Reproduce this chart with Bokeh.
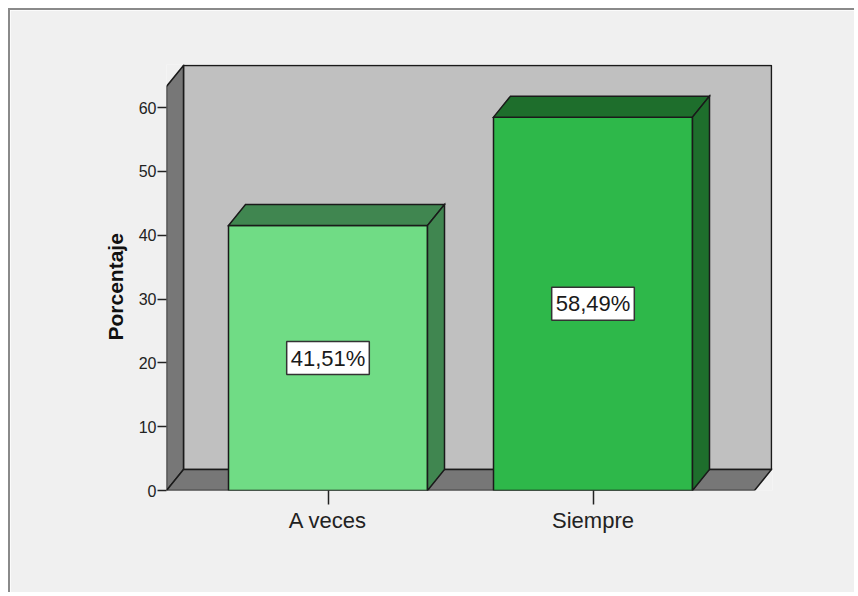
from bokeh.plotting import figure
from bokeh.models import Range1d, FixedTicker, Label, Title, ColumnDataSource
from bokeh.embed import file_html
from bokeh.resources import INLINE

# ---- data ----
categories = ["A veces", "Siempre"]
percentages = [41.51, 58.49]
front_colors = ["#70dc85", "#2eb84a"]
shade_colors = ["#408650", "#1e6e2c"]
y_ticks = [0, 10, 20, 30, 40, 50, 60]
y_axis_title = "Porcentaje"

# ---- geometry / style constants ----
PX_X = 265.0          # pixels per category step
PX_Y = 383.0 / 60.0   # pixels per percent
DX = 17.0 / PX_X      # 3D depth in x (data units)
DY = 21.0 / PX_Y      # 3D depth in y (data units)
HALF_W = 99.5 / PX_X
FRAME_W, FRAME_H = 606, 426
x_lo = -161.5 / PX_X
x_hi = (len(categories) - 1) + 161.5 / PX_X
y_top = 63.3
EDGE = "#1a1a1a"
BG = "#f0f0f0"
FONT = "Liberation Sans"

p = figure(
    width=846, height=584,
    output_backend="svg", toolbar_location=None,
    x_range=Range1d(x_lo, x_lo + FRAME_W / PX_X),
    y_range=Range1d(0, FRAME_H / PX_Y),
    min_border_left=156, min_border_right=84,
    min_border_top=54, min_border_bottom=104,
    background_fill_color=BG, border_fill_color=BG,
    outline_line_color=None,
    styles={"border-left": "2px solid #8a8a8a",
            "border-top": "2px solid #8a8a8a",
            "margin-left": "8px", "margin-top": "8px"},
)
p.grid.visible = False

# ---- 3D box: back wall, side wall, floor ----
p.quad(left=x_lo + DX, right=x_hi + DX, bottom=DY, top=y_top + DY,
       fill_color="#c0c0c0", line_color=EDGE, line_width=1.5)
p.patch([x_lo, x_lo, x_lo + DX, x_lo + DX], [0, y_top, y_top + DY, DY],
        fill_color="#777777", line_color=EDGE, line_width=1.5, line_join="miter")
p.patch([x_lo, x_hi, x_hi + DX, x_lo + DX], [0, 0, DY, DY],
        fill_color="#777777", line_color=EDGE, line_width=1.5, line_join="miter")

# ---- bars ----
xs_pos = list(range(len(categories)))
front = ColumnDataSource(dict(
    left=[i - HALF_W for i in xs_pos], right=[i + HALF_W for i in xs_pos],
    top=percentages, bottom=[0] * len(categories), color=front_colors))
p.quad(left="left", right="right", top="top", bottom="bottom", source=front,
       fill_color="color", line_color=EDGE, line_width=1.5)

tops = ColumnDataSource(dict(
    xs=[[i - HALF_W, i + HALF_W, i + HALF_W + DX, i - HALF_W + DX] for i in xs_pos],
    ys=[[v, v, v + DY, v + DY] for v in percentages], color=shade_colors))
p.patches("xs", "ys", source=tops, fill_color="color", line_color=EDGE,
          line_width=1.5, line_join="miter")

sides = ColumnDataSource(dict(
    xs=[[i + HALF_W, i + HALF_W + DX, i + HALF_W + DX, i + HALF_W] for i in xs_pos],
    ys=[[0, DY, v + DY, v] for v in percentages], color=shade_colors))
p.patches("xs", "ys", source=sides, fill_color="color", line_color=EDGE,
          line_width=1.5, line_join="miter")

# ---- value labels ----
for i, v in zip(xs_pos, percentages):
    txt = f"{v:.2f}".replace(".", ",") + "%"
    p.add_layout(Label(x=i, y=v / 2, text=txt, text_align="center",
                       text_baseline="middle", text_font=FONT,
                       text_font_size="22px", text_color="#1a1a1a",
                       background_fill_color="white",
                       border_line_color="#333333", border_line_width=1.5,
                       padding=4))

# ---- axes ----
ya = p.yaxis[0]
ya.ticker = FixedTicker(ticks=y_ticks)
ya.bounds = (0, y_top)
ya.axis_line_color = None
ya.major_tick_in = 0
ya.major_tick_out = 9
ya.major_tick_line_color = "#222222"
ya.major_tick_line_width = 1.5
ya.minor_tick_line_color = None
ya.major_label_standoff = 1
ya.major_label_text_font = FONT
ya.major_label_text_font_size = "16px"
ya.major_label_text_color = "#222222"

# y axis title, placed from the bottom of the frame so it is centred
# on the front edge of the axis
p.add_layout(Title(text=y_axis_title, align="left", offset=150,
                   text_font=FONT, text_font_size="21px",
                   text_font_style="bold", text_color="#111111",
                   standoff=18), "left")

xa = p.xaxis[0]
xa.ticker = FixedTicker(ticks=xs_pos)
xa.major_label_overrides = {i: c for i, c in zip(xs_pos, categories)}
xa.axis_line_color = None
xa.major_tick_in = 0
xa.major_tick_out = 14
xa.major_tick_line_color = "#222222"
xa.major_tick_line_width = 1.5
xa.minor_tick_line_color = None
xa.major_label_standoff = 3
xa.major_label_text_font = FONT
xa.major_label_text_font_size = "22px"
xa.major_label_text_color = "#222222"

open("out.html", "w").write(file_html(p, INLINE))
